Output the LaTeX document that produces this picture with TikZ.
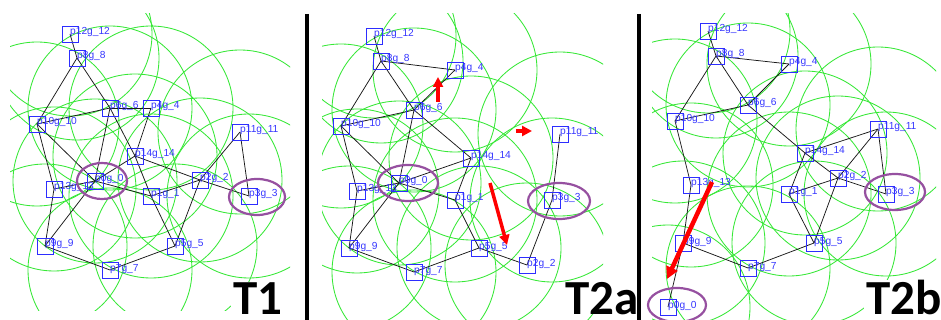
\documentclass[tikz,border=0pt]{standalone}
\usepackage{fontspec}
\setmainfont{Liberation Sans}
\newfontfamily\bigfont{Carlito}
\usetikzlibrary{arrows.meta}
\definecolor{rangegreen}{RGB}{55,232,55}
\definecolor{nodeblue}{RGB}{45,45,255}
\definecolor{labelblue}{RGB}{55,55,255}
\definecolor{markpurple}{RGB}{150,80,160}
\begin{document}
\begin{tikzpicture}[x=1pt,y=-1pt,
  sensorbox/.style={draw=nodeblue, line width=0.8pt, shape=rectangle, minimum size=16pt, inner sep=0pt},
  nodetag/.style={anchor=base west, inner sep=0pt, text=labelblue, font=\fontsize{10.2}{12}\selectfont},
  linkline/.style={draw=black!90, line width=0.75pt},
  rangering/.style={draw=rangegreen, line width=0.85pt},
  focusring/.style={draw=markpurple, line width=2.2pt},
  movearrow/.style={draw=red, line width=3.5pt, -{Triangle[length=10pt,width=10pt]}},
  paneltitle/.style={anchor=base west, inner xsep=2pt, inner ysep=0pt, text depth=0pt, fill=white,
    font=\bigfont\bfseries\fontsize{49}{50}\selectfont},
  paneldivider/.style={draw=black, line width=4pt}
]
\useasboundingbox (0,0) rectangle (941,320);
\fill[white] (0,0) rectangle (941,320);

% ---------- panel T1 ----------
\foreach \n/\x/\y in {a0/95/181, a1/151/196, a2/200/180, a3/249/196, a4/151/108,
  a5/175/246, a6/110/108, a7/110/270, a8/77/58, a9/45/246, a10/37/124,
  a11/240/132, a12/70/34, a13/54/189, a14/135/156}
  \coordinate (\n) at (\x,\y);
\begin{scope}
  \clip (10,14) rectangle (290,310);
  \foreach \n in {a0,a1,a2,a3,a4,a5,a6,a7,a8,a9,a10,a11,a12,a13,a14}
    \draw[rangering] (\n) circle[radius=82];
\end{scope}
\foreach \a/\b in {a12/a8, a8/a10, a8/a6, a10/a6, a10/a13, a10/a0, a6/a4, a6/a0,
  a6/a14, a4/a14, a0/a14, a0/a13, a0/a9, a0/a1, a13/a9, a9/a7, a7/a5, a5/a2,
  a14/a1, a1/a5, a1/a2, a14/a2, a2/a3, a11/a2, a11/a3}
  \draw[linkline] (\a) -- (\b);
\foreach \n/\t in {a0/p0g\_0, a1/p1g\_1, a2/p2g\_2, a3/p3g\_3, a4/p4g\_4, a5/p5g\_5,
  a6/p6g\_6, a7/p7g\_7, a8/p8g\_8, a9/p9g\_9, a10/p10g\_10, a11/p11g\_11,
  a12/p12g\_12, a13/p13g\_13, a14/p14g\_14}
  {\node[sensorbox] (\n box) at (\n) {};
   \node[nodetag] (\n tag) at ([yshift=-1pt]\n) {\t};}
\draw[focusring] (102,181) ellipse [x radius=25, y radius=18];
\draw[focusring] (257,197) ellipse [x radius=28, y radius=18];
\node[paneltitle] (t1) at (231,314) {T1};

% ---------- panel T2a ----------
\foreach \n/\x/\y in {b0/399/183, b1/455/200, b2/527/265, b3/552/200, b4/455/70,
  b5/479/248, b6/414/110, b7/414/272, b8/381/61, b9/349/248, b10/341/126,
  b11/560/134, b12/374/36, b13/357/191, b14/471/158}
  \coordinate (\n) at (\x,\y);
\begin{scope}
  \clip (322,14) rectangle (603,320);
  \foreach \n in {b0,b1,b2,b3,b4,b5,b6,b7,b8,b9,b10,b11,b12,b13,b14}
    \draw[rangering] (\n) circle[radius=82];
\end{scope}
\foreach \a/\b in {b12/b8, b8/b10, b8/b6, b8/b4, b4/b6, b10/b6, b10/b13, b10/b0,
  b6/b0, b6/b14, b0/b14, b0/b13, b0/b9, b0/b1, b13/b9, b9/b7, b7/b5, b14/b1,
  b1/b5, b5/b2, b2/b3, b11/b3}
  \draw[linkline] (\a) -- (\b);
\foreach \n/\t in {b0/p0g\_0, b1/p1g\_1, b2/p2g\_2, b3/p3g\_3, b4/p4g\_4, b5/p5g\_5,
  b6/p6g\_6, b7/p7g\_7, b8/p8g\_8, b9/p9g\_9, b10/p10g\_10, b11/p11g\_11,
  b12/p12g\_12, b13/p13g\_13, b14/p14g\_14}
  {\node[sensorbox] (\n box) at (\n) {};
   \node[nodetag] (\n tag) at ([yshift=-1pt]\n) {\t};}
\draw[focusring] (408,183) ellipse [x radius=30, y radius=18];
\draw[focusring] (559,201) ellipse [x radius=31, y radius=18];
\coordinate (up0) at (438,102);   \coordinate (up1) at (438,77);
\coordinate (rt0) at (516,131);   \coordinate (rt1) at (532,131);
\coordinate (dn0) at (490,183);   \coordinate (dn1) at (507,245);
\draw[movearrow] (up0) -- (up1);
\draw[movearrow] (rt0) -- (rt1);
\draw[movearrow] (dn0) -- (dn1);
\node[paneltitle] (t2a) at (563,314) {T2a};

% ---------- panel T2b ----------
\foreach \n/\x/\y in {c0/668/307, c1/789/194, c2/838/178, c3/886/194, c4/789/64,
  c5/814/243, c6/748/105, c7/748/268, c8/716/56, c9/683/243, c10/675/121,
  c11/878/129, c12/708/31, c13/691/185, c14/805/153}
  \coordinate (\n) at (\x,\y);
\begin{scope}
  \clip (652,14) rectangle (936,320);
  \foreach \n in {c0,c1,c2,c3,c4,c5,c6,c7,c8,c9,c10,c11,c12,c13,c14}
    \draw[rangering] (\n) circle[radius=82];
\end{scope}
\foreach \a/\b in {c12/c8, c8/c10, c8/c6, c8/c4, c4/c6, c10/c6, c10/c13, c6/c14,
  c11/c14, c11/c2, c11/c3, c14/c1, c14/c2, c1/c2, c1/c5, c2/c5, c2/c3,
  c13/c9, c9/c7, c7/c5, c9/c0}
  \draw[linkline] (\a) -- (\b);
\foreach \n/\t in {c0/p0g\_0, c1/p1g\_1, c2/p2g\_2, c3/p3g\_3, c4/p4g\_4, c5/p5g\_5,
  c6/p6g\_6, c7/p7g\_7, c8/p8g\_8, c9/p9g\_9, c10/p10g\_10, c11/p11g\_11,
  c12/p12g\_12, c13/p13g\_13, c14/p14g\_14}
  {\node[sensorbox] (\n box) at (\n) {};
   \node[nodetag] (\n tag) at ([yshift=-1pt]\n) {\t};}
\draw[focusring] (677,305) ellipse [x radius=29, y radius=17];
\draw[focusring] (895,192) ellipse [x radius=30, y radius=18];
\coordinate (sw0) at (712,182);   \coordinate (sw1) at (667,279);
\draw[movearrow, line width=4.5pt, -{Triangle[length=12pt,width=12pt]}] (sw0) -- (sw1);
\node[paneltitle] (t2b) at (864,314) {T2b};

% ---------- dividers ----------
\draw[paneldivider] (307,14) -- (307,320);
\draw[paneldivider] (639,14) -- (639,320);
\end{tikzpicture}
\end{document}
